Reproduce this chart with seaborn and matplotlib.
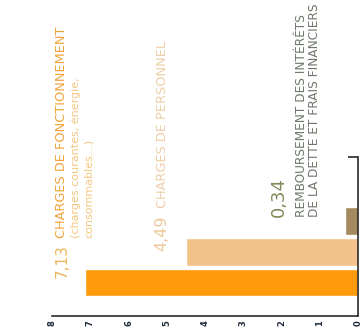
import matplotlib
matplotlib.use("Agg")
import matplotlib.pyplot as plt
import seaborn as sns
import pandas as pd

# ---- data ----
categories = ["Remboursement des intérêts", "Charges de personnel", "Charges de fonctionnement"]
values = [0.34, 4.49, 7.13]
bar_colors = ["#A48A5E", "#F2C28A", "#FF9A0A"]
xticks = [0, 1, 2, 3, 4, 5, 6, 7, 8]

# label texts
value_label_colors = ["#7E8A58", "#EEC79A", "#EDB55A"]
title_lines = [
    ["REMBOURSEMENT DES INTÉRÊTS", "DE LA DETTE ET FRAIS FINANCIERS"],
    ["CHARGES DE PERSONNEL"],
    ["CHARGES DE FONCTIONNEMENT", "(charges courantes, énergie,", "consommables...)"],
]
title_colors = [
    ["#6E786A", "#6E786A"],
    ["#EFCFAA"],
    ["#F2A33A", "#F5C77E", "#F5C77E"],
]

sns.set_theme(style="white")
plt.rcParams["font.family"] = ["DejaVu Sans"]

fig = plt.figure(figsize=(3.63, 3.36), dpi=100)
fig.patch.set_facecolor("white")
ax = fig.add_axes([0.14325, 0.0610, 0.84298, 0.4717])

df = pd.DataFrame({"cat": categories, "val": values})
sns.barplot(data=df, x="val", y="cat", hue="cat", palette=bar_colors,
            orient="h", width=0.91, legend=False, ax=ax, saturation=1)

ax.set_xlim(8, 0)
ytop, ybot = -2.081, 3.073
ax.set_ylim(ybot, ytop)
ax.set_xlabel("")
ax.set_ylabel("")

# spines
for s in ["top", "left"]:
    ax.spines[s].set_visible(False)
for s in ["bottom", "right"]:
    ax.spines[s].set_visible(True)
    ax.spines[s].set_color("#2A2A2A")
    ax.spines[s].set_linewidth(1.2)

ax.set_xticks(xticks)
ax.set_xticklabels([str(t) for t in xticks], rotation=90, fontsize=6,
                   color="#1E2B3A", fontweight="bold")
ax.tick_params(axis="x", direction="in", length=4, width=1, color="#2A2A2A", pad=3.5)
ax.yaxis.tick_right()
ax.set_yticks([ytop])
ax.set_yticklabels([""])
ax.tick_params(axis="y", direction="in", length=7, width=1.2, color="#2A2A2A")

# value labels (rotated)
val_label_x = [2.07, 5.13, 7.74]
val_label_y = [-0.13, 0.96, 1.85]
val_sizes = [13, 11.5, 11]
for v, x, y, c, fs in zip(values, val_label_x, val_label_y, value_label_colors, val_sizes):
    ax.text(x, y, f"{v:.2f}".replace(".", ","), rotation=90, ha="center", va="bottom",
            color=c, fontsize=fs, clip_on=False)

# category titles (rotated)
title_x = [[1.49, 1.15], [5.10], [7.74, 7.38, 7.04]]
title_y = [-0.13, -0.42, 0.55]
title_sizes = [[8.7, 8.7], [9.3], [9.3, 8.0, 8.0]]
for lines, xs, y, cols, sizes in zip(title_lines, title_x, title_y, title_colors, title_sizes):
    for t, x, c, fs in zip(lines, xs, cols, sizes):
        ax.text(x, y, t, rotation=90, ha="center", va="bottom", color=c,
                fontsize=fs, clip_on=False)

fig.savefig("out.png", dpi=100, facecolor="white")
